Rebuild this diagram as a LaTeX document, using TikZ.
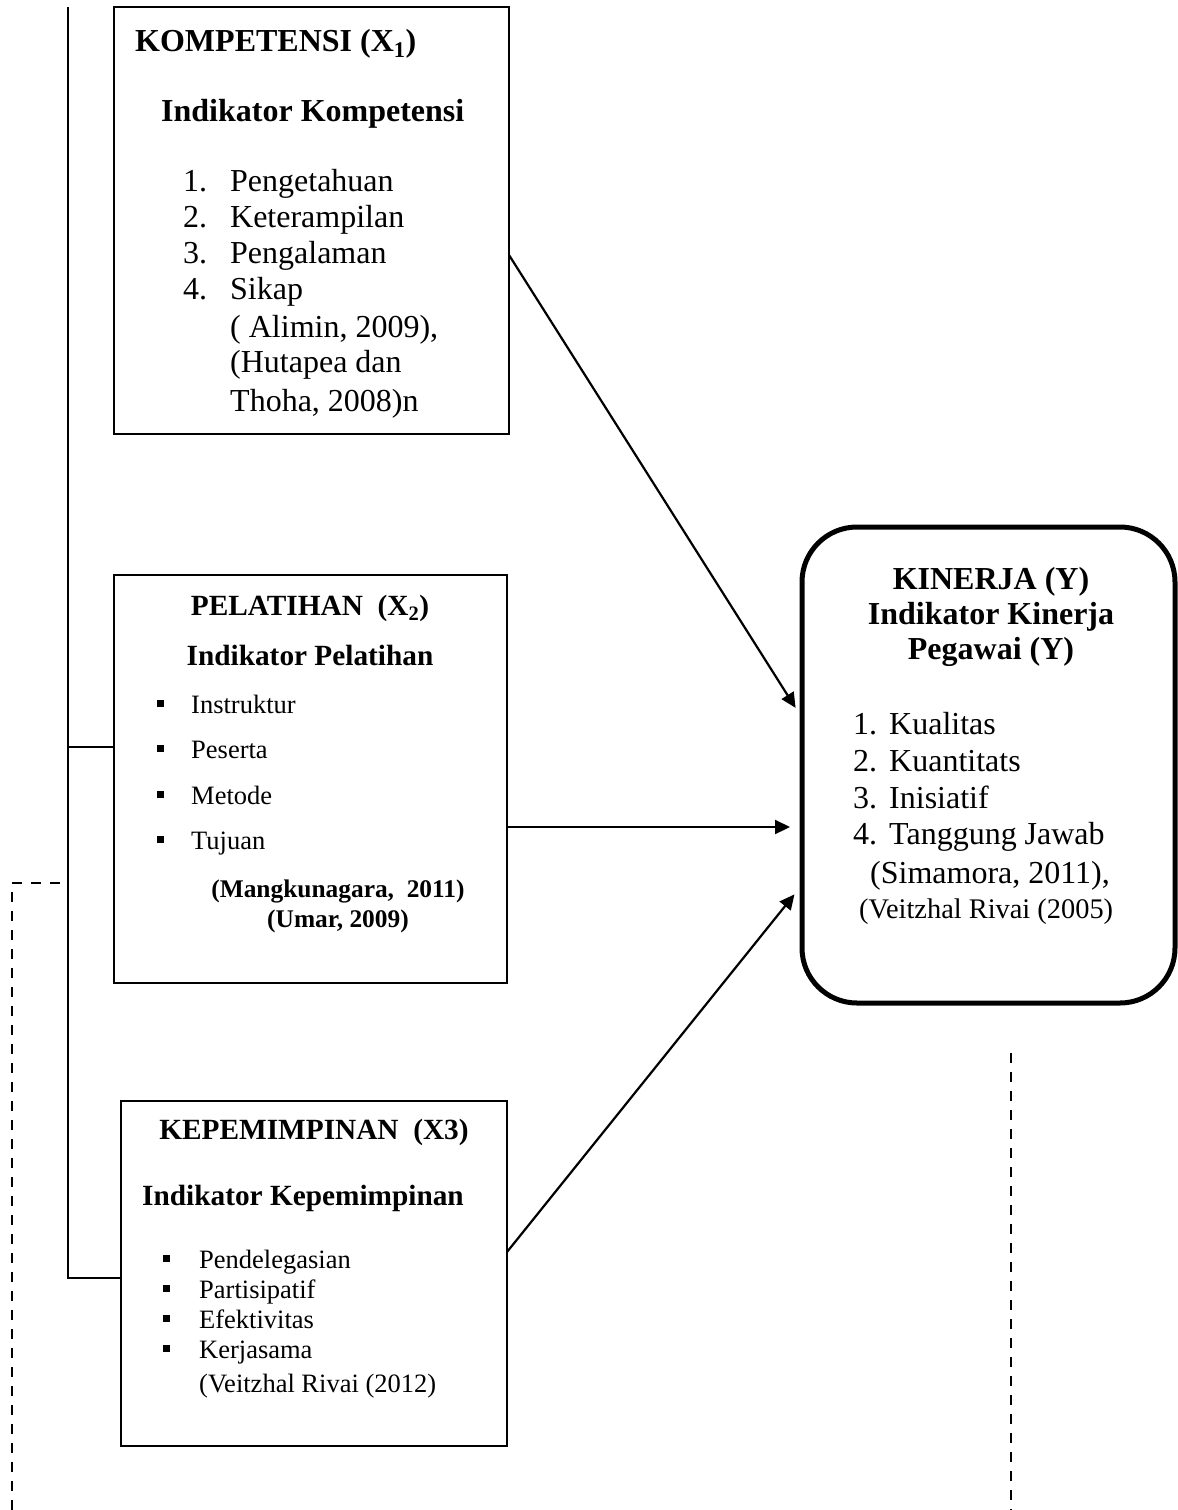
\documentclass[tikz,border=0pt]{standalone}
\usepackage{fontspec}
\setmainfont{Liberation Serif}
\usetikzlibrary{arrows.meta}
\newcommand\fsA{\fontsize{32}{36}\selectfont}
\newcommand\fsB{\fontsize{29.3}{34}\selectfont}
\newcommand\fsC{\fontsize{26.5}{30}\selectfont}
\newcommand\fsD{\fontsize{25.4}{30}\selectfont}
\newcommand\fsE{\fontsize{28.4}{32}\selectfont}
\newcommand\sqbul[1]{\makebox[#1][l]{\raisebox{6pt}{\rule{7pt}{7pt}}}}
\newcommand\numlab[1]{\makebox[47pt][l]{#1}}
\newcommand\numlabk[1]{\makebox[36pt][l]{#1}}
\begin{document}
\begin{tikzpicture}[x=1pt,y=-1pt,
  bx/.style={draw, line width=2pt, inner sep=0pt, outer sep=0pt},
  kbox/.style={draw, line width=5pt, rounded corners=55pt, inner sep=0pt, outer sep=0pt},
  tl/.style={inner sep=0pt, anchor=base west},
  tcn/.style={inner sep=0pt, anchor=base},
  conn/.style={line width=2pt},
  arr/.style={line width=2.2pt, -{Triangle[length=15pt,width=14pt]}, shorten >=12pt},
  dsh/.style={line width=2.6pt, dash pattern=on 10pt off 9pt}]
\useasboundingbox (0,0) rectangle (1178,1510);

% boxes
\node[bx, minimum width=395pt, minimum height=427pt] (box1) at (311.5,220.5) {};
\node[bx, minimum width=393pt, minimum height=408pt] (box2) at (310.5,779) {};
\node[bx, minimum width=386pt, minimum height=345pt] (box3) at (314,1273.5) {};
\node[kbox, minimum width=373pt, minimum height=476pt] (kin) at (988.5,765) {};

% box 1 text
\node[tl] (k1) at (135,51) {\fsA\bfseries KOMPETENSI (X\textsubscript{1})};
\node[tl] (k2) at (161,121) {\fsA\bfseries Indikator Kompetensi};
\node[tl] (k3) at (183,191) {\fsA\numlab{1.}Pengetahuan};
\node[tl] (k4) at (183,227) {\fsA\numlab{2.}Keterampilan};
\node[tl] (k5) at (183,263) {\fsA\numlab{3.}Pengalaman};
\node[tl] (k6) at (183,299) {\fsA\numlab{4.}Sikap};
\node[tl] (k7) at (230,337) {\fsA( Alimin, 2009),};
\node[tl] (k8) at (230,372) {\fsA(Hutapea dan};
\node[tl] (k9) at (230,411) {\fsA Thoha, 2008)n};

% box 2 text
\node[tcn] (p1) at (310,615) {\fsB\bfseries PELATIHAN\ \ (X\textsubscript{2})};
\node[tcn] (p2) at (310,665) {\fsB\bfseries Indikator Pelatihan};
\node[tl] (p3) at (157,713) {\fsC\sqbul{34pt}Instruktur};
\node[tl] (p4) at (157,758) {\fsC\sqbul{34pt}Peserta};
\node[tl] (p5) at (157,804) {\fsC\sqbul{34pt}Metode};
\node[tl] (p6) at (157,849) {\fsC\sqbul{34pt}Tujuan};
\node[tcn] (p7) at (338,897) {\fsD\bfseries (Mangkunagara,\ \ 2011)};
\node[tcn] (p8) at (338,927) {\fsD\bfseries (Umar, 2009)};

% box 3 text
\node[tcn] (m1) at (314,1139) {\fsB\bfseries KEPEMIMPINAN\ \ (X3)};
\node[tl] (m2) at (142,1205) {\fsB\bfseries Indikator Kepemimpinan};
\node[tl] (m3) at (163,1268) {\fsC\sqbul{36pt}Pendelegasian};
\node[tl] (m4) at (163,1298) {\fsC\sqbul{36pt}Partisipatif};
\node[tl] (m5) at (163,1328) {\fsC\sqbul{36pt}Efektivitas};
\node[tl] (m6) at (163,1358) {\fsC\sqbul{36pt}Kerjasama};
\node[tl] (m7) at (199,1392) {\fsC(Veitzhal Rivai (2012)};

% kinerja text
\node[tcn] (y1) at (991,589) {\fsA\bfseries KINERJA (Y)};
\node[tcn] (y2) at (991,624) {\fsA\bfseries Indikator Kinerja};
\node[tcn] (y3) at (991,659) {\fsA\bfseries Pegawai (Y)};
\node[tl] (y4) at (853,734) {\fsA\numlabk{1.}Kualitas};
\node[tl] (y5) at (853,771) {\fsA\numlabk{2.}Kuantitats};
\node[tl] (y6) at (853,808) {\fsA\numlabk{3.}Inisiatif};
\node[tl] (y7) at (853,844) {\fsA\numlabk{4.}Tanggung Jawab};
\node[tl] (y8) at (870,883) {\fsA(Simamora, 2011),};
\node[tl] (y9) at (859,918) {\fsE(Veitzhal Rivai (2005)};

% bracket on the left
\coordinate (brtop) at (68,7);
\coordinate (br2) at (68,747);
\coordinate (br3) at (68,1278);
\draw[conn] (brtop) -- (br3) -- (br3 -| box3.west);
\draw[conn] (br2) -- (br2 -| box2.west);

% arrows
\draw[arr] ([yshift=-34.5pt]box1.east) -- ([yshift=47pt]kin.west);
\draw[arr] ([yshift=-48pt]box2.east) -- ([yshift=-62pt]kin.west);
\draw[arr] ([yshift=21.5pt]box3.east) -- ([yshift=-120pt]kin.west);

% dashed lines
\coordinate (dl1) at (60,883);
\coordinate (dl2) at (12,883);
\coordinate (dl3) at (12,1510);
\draw[dsh] (dl1) -- (dl2) -- (dl3);
\coordinate (dr1) at (1011,1053);
\coordinate (dr2) at (1011,1510);
\draw[dsh] (dr1) -- (dr2);
\end{tikzpicture}
\end{document}
